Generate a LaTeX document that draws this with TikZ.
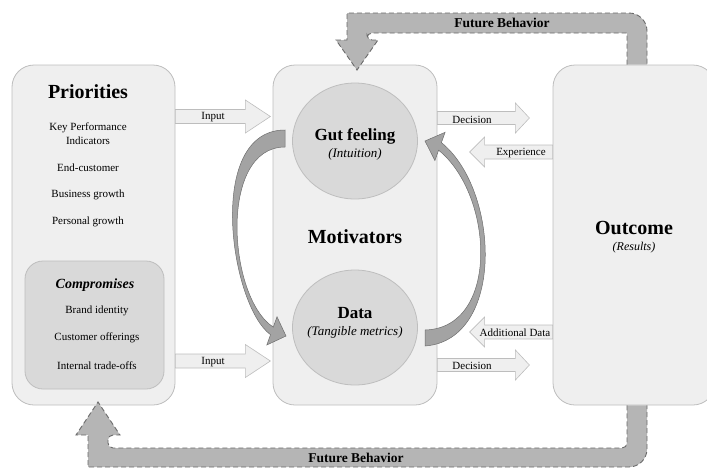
\documentclass[tikz,border=0pt]{standalone}
\usepackage{fontspec}
\setmainfont{Liberation Serif}
\usetikzlibrary{positioning,calc,shapes.geometric}
\definecolor{boxfill}{HTML}{EFEFEF}
\definecolor{boxline}{HTML}{BDBDBD}
\definecolor{cirfill}{HTML}{D9D9D9}
\definecolor{cirline}{HTML}{BEBEBE}
\definecolor{curvefill}{HTML}{A3A3A3}
\definecolor{curveline}{HTML}{6E6E6E}
\definecolor{bandfill}{HTML}{B5B5B5}
\definecolor{bandline}{HTML}{6A6A6A}
\tikzset{box/.style={draw=boxline, fill=boxfill, line width=0.8pt, rounded corners=22pt, inner sep=0pt},
         subbox/.style={box, fill=cirfill, draw=cirline, rounded corners=18pt},
         blob/.style={ellipse, draw=cirline, fill=cirfill, line width=0.8pt, inner sep=0pt},
         blockarr/.style={draw=boxline, fill=boxfill, line width=0.6pt},
         bendarr/.style={draw=curveline, fill=curvefill, line width=0.5pt},
         band/.style={fill=bandfill, draw=bandline, dash pattern=on 5pt off 3pt, line width=0.9pt},
         bigtitle/.style={font=\fontsize{20}{24}\selectfont\bfseries, inner sep=0pt},
         midtitle/.style={font=\fontsize{17}{20}\selectfont\bfseries, inner sep=0pt},
         note/.style={font=\fontsize{13}{15}\selectfont\itshape, inner sep=0pt},
         item/.style={font=\fontsize{11}{14}\selectfont, align=center, inner sep=0pt},
         arrtext/.style={font=\fontsize{11}{13}\selectfont, inner sep=0pt},
         bandtext/.style={font=\fontsize{13.5}{16}\selectfont\bfseries, inner sep=0pt}
}

\begin{document}
\begin{tikzpicture}[x=1pt,y=-1pt]
  \useasboundingbox (0,0) rectangle (707,467);

  % the three columns
  \node[box, minimum width=163pt, minimum height=340pt] (prio) at (93.5,235) {};
  \node[box, minimum width=164pt, minimum height=340pt] (motiv) at (355,235) {};
  \node[box, minimum width=162pt, minimum height=340pt] (outc) at (634,235) {};
  \node[subbox, minimum width=139pt, minimum height=128pt] (comp) at (94.5,325) {};

  % priorities
  \node[bigtitle] (priot) at (88,92) {Priorities};
  \node[item] (kpi) at (88,134) {Key Performance\\Indicators};
  \node[item] (endc) at (88,168) {End-customer};
  \node[item] (bgrow) at (88,195) {Business growth};
  \node[item] (pgrow) at (88,222) {Personal growth};
  \node[font=\fontsize{14}{17}\selectfont\bfseries\itshape, inner sep=0pt] (compt) at (95,285) {Compromises};
  \node[item] (brand) at (97,311) {Brand identity};
  \node[item] (offer) at (97,338) {Customer offerings};
  \node[item] (trade) at (97,366) {Internal trade-offs};

  % motivators
  \node[blob, minimum width=125pt, minimum height=116pt] (gut) at (355,141) {};
  \node[blob, minimum width=125pt, minimum height=115pt] (data) at (355,327.5) {};
  \node[midtitle] (gutt) at (355,136) {Gut feeling};
  \node[note, below=4pt of gutt] (intu) {(Intuition)};
  \node[bigtitle] (motivt) at (355,237) {Motivators};
  \node[midtitle] (datat) at (355,313) {Data};
  \node[note] (tang) at (355,332) {(Tangible metrics)};

  % outcome
  \node[bigtitle] (outt) at (634,228) {Outcome};
  \node[note, font=\fontsize{12}{14}\selectfont\itshape] (resu) at (634,248) {(Results)};

  % block arrows
  \draw[blockarr] (prio.east |- 0,109.5) -- ++(70,0) -- ++(0,-9.5) -- ++(25,16.5) -- ++(-25,16.5) -- ++(0,-9.5) -- ++(-70,0) -- cycle;
  \draw[blockarr] (prio.east |- 0,354) -- ++(70,0) -- ++(0,-9.5) -- ++(25,16.5) -- ++(-25,16.5) -- ++(0,-9.5) -- ++(-70,0) -- cycle;
  \draw[blockarr] (motiv.east |- 0,111.5) -- ++(78,0) -- ++(0,-8.5) -- ++(14,15) -- ++(-14,15) -- ++(0,-8.5) -- ++(-78,0) -- cycle;
  \draw[blockarr] (motiv.east |- 0,358.5) -- ++(78,0) -- ++(0,-8.5) -- ++(14,15) -- ++(-14,15) -- ++(0,-8.5) -- ++(-78,0) -- cycle;
  \draw[blockarr] (outc.west |- 0,145) -- ++(-68,0) -- ++(0,-8) -- ++(-15,15) -- ++(15,15) -- ++(0,-8) -- ++(68,0) -- cycle;
  \draw[blockarr] (outc.west |- 0,325) -- ++(-68,0) -- ++(0,-8) -- ++(-15,15) -- ++(15,15) -- ++(0,-8) -- ++(68,0) -- cycle;
  \node[arrtext] (inlab1) at (213,117) {Input};
  \node[arrtext] (inlab2) at (213,362) {Input};
  \node[arrtext] (declab1) at (472,120) {Decision};
  \node[arrtext] (declab2) at (472,366) {Decision};
  \node[arrtext] (explab) at (521,153) {Experience};
  \node[arrtext] (addlab) at (515,333) {Additional Data};

  % bent arrows between gut feeling and data
  \draw[bendarr] (285,130) .. controls (205,130) and (230,305) .. (270.5,334.7) -- (266.8,345) -- (286,336) -- (277,316.8) -- (273.3,327.1) .. controls (228,298) and (218,147) .. (285,147) -- cycle;
  \draw[bendarr] (425,346) .. controls (505,340) and (500,190) .. (441.4,142.6) -- (445.1,132.3) -- (425,141) -- (434.9,160.5) -- (438.6,150.2) .. controls (494,195) and (500,328) .. (425,330) -- cycle;

  % future behavior loops
  \draw[band] (627,64.6) -- (627,33) [rounded corners=5pt] -- (367,33) -- (367,40) [sharp corners] -- (378,40) -- (357,70) -- (336,40) -- (347,40) -- (347,13) [rounded corners=18pt] -- (647,13) -- (647,64.6);
  \draw[band] (627,405.4) [rounded corners=5pt] -- (627,448) -- (108,448) -- (108,435) [sharp corners] -- (120,435) -- (98,402) -- (76,435) -- (88,435) -- (88,467) [rounded corners=18pt] -- (647,467) -- (647,405.4);
  \node[bandtext] (fbtop) at (502,23) {Future Behavior};
  \node[bandtext] (fbbot) at (356,458) {Future Behavior};
\end{tikzpicture}
\end{document}
